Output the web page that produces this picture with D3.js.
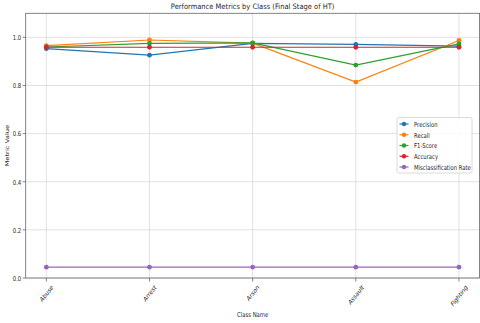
<!DOCTYPE html>
<html><head><meta charset="utf-8">
<script src="https://cdn.jsdelivr.net/npm/d3@7"></script>
<style>body{margin:0;background:#fff}svg{display:block}text{font-family:"DejaVu Sans",sans-serif;fill:#262626}</style>
</head><body><svg id="c" width="480" height="323"></svg>
<script>
const categories = ["Abuse","Arrest","Arson","Assault","Fighting"];
const seriesNames = ["Precision","Recall","F1-Score","Accuracy","Misclassification Rate"];
const precision = [0.953,0.926,0.975,0.971,0.964];
const recall = [0.966,0.989,0.976,0.814,0.987];
const f1 = [0.960,0.975,0.977,0.885,0.973];
const accuracy = [0.959,0.959,0.959,0.959,0.959];
const misclass = [0.045,0.045,0.045,0.045,0.045];
const yTicks = [0.0,0.2,0.4,0.6,0.8,1.0];
const colors = ["#1f77b4","#ff7f0e","#2ca02c","#d62728","#9467bd"];
const allSeries = [precision,recall,f1,accuracy,misclass];

const svg = d3.select("#c");
const L = 25.7, R = 479.6, T = 13.3, B = 278;
const x = d3.scalePoint().domain(categories).range([L,R]).padding(0.2);
const y = d3.scaleLinear().domain([0,1.1]).range([B,T]);

function txt(g, s, size, anchor){
  return g.append("text").text(s).attr("font-size",size)
    .attr("text-anchor",anchor||"middle").attr("dominant-baseline","central");
}
function place(t, px, py, sq, rot){
  t.attr("transform",`translate(${px},${py}) scale(${sq},1)` + (rot?` rotate(${rot})`:""));
}
function fitScale(s, size, target){
  const t = svg.append("text").text(s).attr("font-size",size);
  const w = t.node().getComputedTextLength(); t.remove();
  return target / w;
}

// grid
const grid = svg.append("g");
yTicks.forEach(v=>grid.append("line").attr("x1",L).attr("x2",R).attr("y1",y(v)).attr("y2",y(v)).attr("stroke","#d9d9d9").attr("stroke-width",0.8));
categories.forEach(c=>grid.append("line").attr("x1",x(c)).attr("x2",x(c)).attr("y1",T).attr("y2",B).attr("stroke","#d9d9d9").attr("stroke-width",0.8));

// series
const line = d3.line().x((d,i)=>x(categories[i])).y(d=>y(d));
allSeries.forEach((s,k)=>{
  const g = svg.append("g");
  g.append("path").datum(s).attr("d",line).attr("fill","none").attr("stroke",colors[k]).attr("stroke-width",1.2);
  g.selectAll("circle").data(s).join("circle").attr("cx",(d,i)=>x(categories[i])).attr("cy",d=>y(d)).attr("r",2.4).attr("fill",colors[k]);
});

// spines
svg.append("rect").attr("x",L).attr("y",T).attr("width",R-L).attr("height",B-T).attr("fill","none").attr("stroke","#666").attr("stroke-width",0.8);

const FS = 6.8;
const SQ = fitScale("Misclassification Rate", FS, 57);

// y ticks
const ya = svg.append("g");
yTicks.forEach(v=>{
  ya.append("line").attr("x1",L-3).attr("x2",L).attr("y1",y(v)).attr("y2",y(v)).attr("stroke","#666").attr("stroke-width",0.8);
  place(txt(ya, v.toFixed(1), FS, "end"), L-4.5, y(v), SQ);
});
// x ticks
const xa = svg.append("g");
categories.forEach(c=>{
  xa.append("line").attr("x1",x(c)).attr("x2",x(c)).attr("y1",B).attr("y2",B+3.5).attr("stroke","#666").attr("stroke-width",0.8);
  const t = txt(xa, c, FS, "middle");
  const w = t.node().getComputedTextLength();
  const half = (w+FS*0.75)*Math.SQRT1_2/2;
  place(t, x(c), B+6+half, SQ, -45);
});

// labels
const title = "Performance Metrics by Class (Final Stage of HT)";
place(txt(svg, title, 7.4, "middle"), (L+R)/2, 6.3, fitScale(title, 7.4, 163.6));
place(txt(svg, "Class Name", FS, "middle"), (L+R)/2, 314, SQ);
txt(svg, "Metric Value", FS, "middle").attr("transform",`translate(7,${(T+B)/2}) rotate(-90) scale(1,${SQ})`);

// legend
const lg = svg.append("g");
lg.append("rect").attr("x",397).attr("y",117.5).attr("width",75).attr("height",55.5).attr("rx",2)
  .attr("fill","#fff").attr("fill-opacity",0.8).attr("stroke","#d0d0d0").attr("stroke-width",0.8);
seriesNames.forEach((n,k)=>{
  const yy = 124 + k*10.75;
  lg.append("line").attr("x1",399.5).attr("x2",408.5).attr("y1",yy).attr("y2",yy).attr("stroke",colors[k]).attr("stroke-width",1.2);
  lg.append("circle").attr("cx",404).attr("cy",yy).attr("r",2.2).attr("fill",colors[k]);
  place(txt(lg, n, FS, "start"), 414, yy, SQ);
});
</script></body></html>
